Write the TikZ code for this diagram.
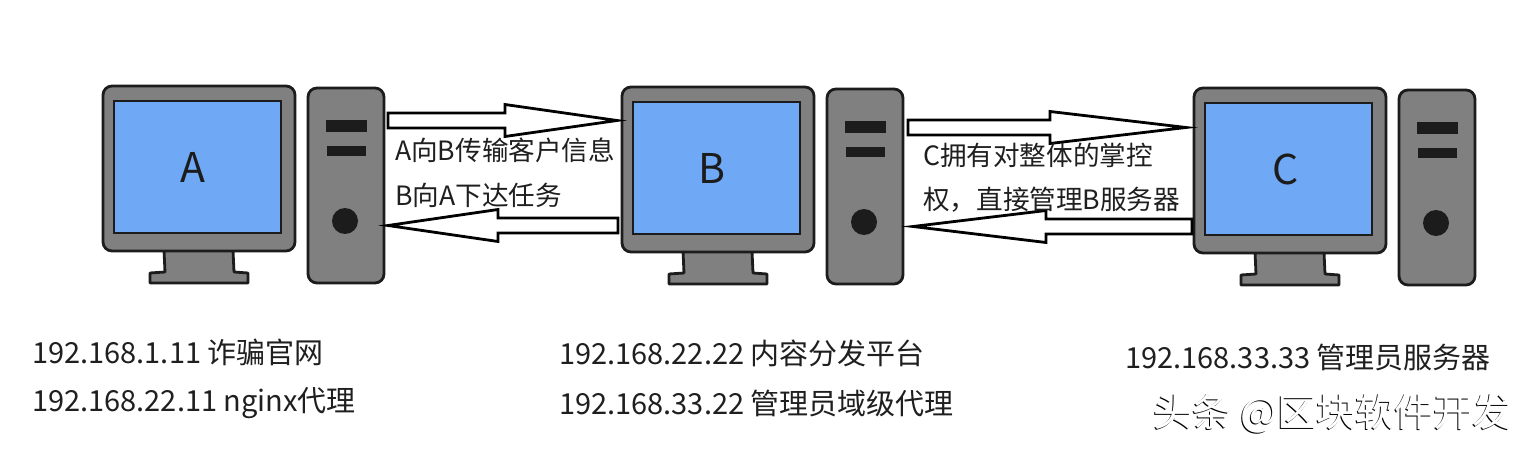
\documentclass[tikz,border=0pt]{standalone}
\usepackage{fontspec}
\setmainfont{Noto Sans CJK SC}
\usetikzlibrary{calc}
\definecolor{casegray}{HTML}{808080}
\definecolor{screenblue}{HTML}{6FA9F6}
\definecolor{ink}{HTML}{1C1C1C}
\tikzset{
  x=1pt,y=-1pt,
  body/.style={draw=ink,line width=2.8pt,fill=casegray,line join=round},
  screen/.style={draw=ink,line width=2.4pt,fill=screenblue,inner sep=0pt},
  letter/.style={inner sep=0pt,text=ink,font=\fontsize{41}{41}\selectfont},
  slot/.style={draw=ink,line width=1pt,fill=ink},
  blockarrow/.style={draw=black,line width=2.8pt,fill=white,line join=miter,miter limit=20},
  txt/.style={anchor=west,inner sep=0pt,text=black!88,font=\fontsize{29}{29}\selectfont},
  lbl/.style={anchor=west,inner sep=0pt,text=black!88,font=\fontsize{26.6}{26.6}\selectfont},
  wm/.style={anchor=west,inner sep=0pt,font=\fontsize{39}{39}\selectfont}
}
% #1 name, #2 letter, #3 dx, #4 dy, #5 letter x offset from the screen centre
\newcommand{\computer}[5]{%
  \begin{scope}[shift={(#3,#4)}]
    \draw[body] (164,250) -- (165,272) -- (150,273) -- (150,283) -- (248,283) -- (248,273) -- (234,272) -- (233,250) -- cycle;
    \draw[body,rounded corners=9pt] (103,86) rectangle (295,251);
    \node[screen,minimum width=167pt,minimum height=132pt] (screen#1) at (197.5,167) {};
    \node[letter] (letter#1) at ($(screen#1.center)+(#5,0)$) {#2};
    \draw[body,rounded corners=9pt] (308,88) rectangle (384,283);
    \draw[slot] (326,121) rectangle (366,132);
    \draw[slot] (327,147) rectangle (365,156);
    \fill[ink] (345,221) circle (13);
  \end{scope}}
% #1 tail coordinate, #2 tip coordinate, #3 signed distance from tail to head base
\newcommand{\blockarr}[3]{%
  \path (#1) coordinate (t) (#2) coordinate (h);
  \draw[blockarrow] ($(t)+(0,-7.5)$) -- ($(t)+(#3,-7.5)$) -- ($(t)+(#3,-16)$) -- (h) -- ($(t)+(#3,16)$) -- ($(t)+(#3,7.5)$) -- ($(t)+(0,7.5)$) -- cycle;}
\begin{document}
\begin{tikzpicture}
\useasboundingbox (0,0) rectangle (1526,449);
\fill[white] (0,0) rectangle (1526,449);
\computer{A}{A}{0}{0}{-5}
\computer{B}{B}{519}{1}{-5}
\computer{C}{C}{1091}{2}{-3}
\coordinate (abT) at (388,120.5); \coordinate (abH) at (617,120.5);
\coordinate (baT) at (618,225.5); \coordinate (baH) at (388,225.5);
\coordinate (cbT) at (1192,226.5); \coordinate (cbH) at (913,226.5);
\coordinate (bcT) at (908,127.5); \coordinate (bcH) at (1186,127.5);
\blockarr{abT}{abH}{117}
\blockarr{baT}{baH}{-120}
\blockarr{bcT}{bcH}{142}
\blockarr{cbT}{cbH}{-146}
\node[lbl] (l1) at (395,150) {A向B传输客户信息};
\node[lbl] (l2) at (395,195) {B向A下达任务};
\node[lbl] (l3) at (923,155) {C拥有对整体的掌控};
\node[lbl] (l4) at (923,200) {权，直接管理B服务器};
\node[txt] (t1) at (32,352) {192.168.1.11 诈骗官网};
\node[txt] (t2) at (32,403) {192.168.22.11 nginx代理};
\node[txt] (t3) at (559,353) {192.168.22.22 内容分发平台};
\node[txt] (t4) at (559,403) {192.168.33.22 管理员域级代理};
\node[txt] (t5) at (1125,357) {192.168.33.33 管理员服务器};
\node[wm,text=black] (wm0) at (1152.3,414.5) {头条 @区块软件开发};
\node[wm,text=white] (wm1) at (1153.2,413.7) {头条 @区块软件开发};
\end{tikzpicture}
\end{document}
